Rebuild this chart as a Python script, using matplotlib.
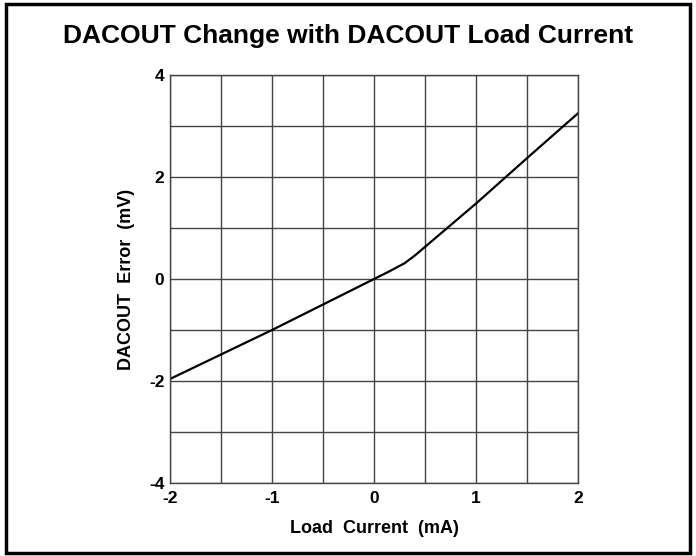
import matplotlib
matplotlib.use("Agg")
import matplotlib.pyplot as plt
from matplotlib.patches import Rectangle
import numpy as np

# load current (mA) vs DACOUT error (mV)
load_current = [-2.0, -1.5, -1.0, -0.5, 0.0, 0.15, 0.3, 0.4, 0.5, 1.0, 1.5, 2.0]
dacout_error = [-1.96, -1.48, -1.0, -0.5, 0.0, 0.15, 0.31, 0.46, 0.63, 1.48, 2.37, 3.25]

x_ticks = [-2, -1, 0, 1, 2]
y_ticks = [-4, -2, 0, 2, 4]

plt.rcParams['font.family'] = ['Liberation Sans', 'DejaVu Sans']
plt.rcParams['axes.unicode_minus'] = False

fig = plt.figure(figsize=(6.96, 5.56), dpi=100)
ax = fig.add_axes([0.2443, 0.1313, 0.5862, 0.7338])

# outer frame around the whole figure
fig.patches.append(Rectangle((0.009, 0.006), 0.982, 0.986, transform=fig.transFigure,
                             fill=False, edgecolor='black', linewidth=2.5))

ax.plot(load_current, dacout_error, color='black', linewidth=1.6)

ax.set_xlim(-2, 2)
ax.set_ylim(-4, 4)
ax.set_xticks(x_ticks)
ax.set_yticks(y_ticks)
ax.set_xticks(np.arange(-2, 2.01, 0.5), minor=True)
ax.set_yticks(np.arange(-4, 4.01, 1), minor=True)
ax.grid(True, which='both', color='#444444', linewidth=1.0)
ax.tick_params(which='both', length=0)
ax.tick_params(axis='x', pad=6)
ax.tick_params(axis='y', pad=4)
for lab in ax.get_xticklabels() + ax.get_yticklabels():
    lab.set_fontweight('bold')
    lab.set_fontsize(12.5)
for s in ax.spines.values():
    s.set_color('#444444')
    s.set_linewidth(1.0)

ax.set_xlabel('Load  Current  (mA)', fontsize=13, fontweight='bold', labelpad=10)
ax.set_ylabel('DACOUT  Error  (mV)', fontsize=13, fontweight='bold', labelpad=10)
fig.text(0.5, 0.935, 'DACOUT Change with DACOUT Load Current', ha='center', va='center',
         fontsize=19, fontweight='bold')

fig.savefig('out.png', dpi=100)
